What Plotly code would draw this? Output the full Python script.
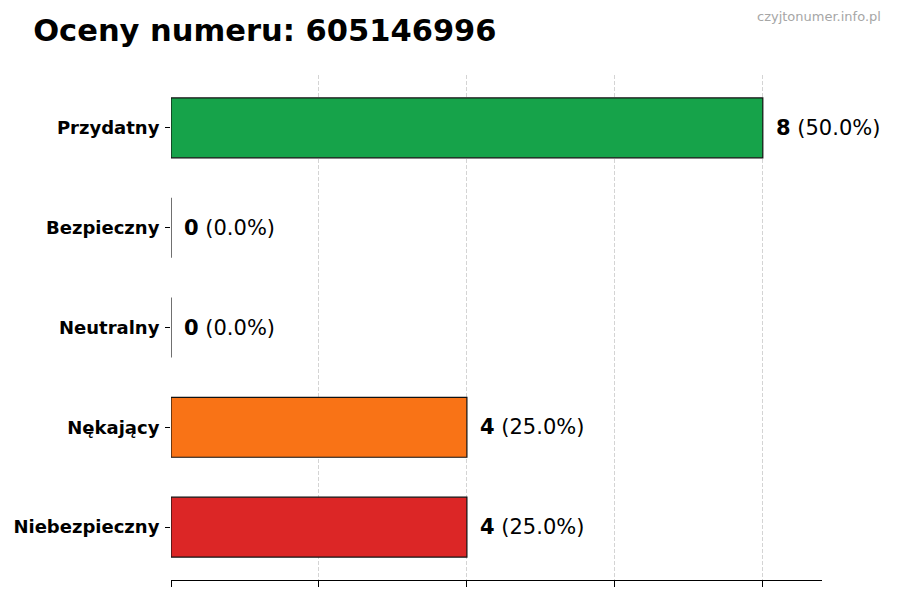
import plotly.graph_objects as go

# data, top to bottom as in the picture
categories = ["Przydatny", "Bezpieczny", "Neutralny", "Nękający", "Niebezpieczny"]
counts = [8, 0, 0, 4, 4]
colors = ["#16a34a", "#2563eb", "#9ca3af", "#f97316", "#dc2626"]
phone = "605146996"

total = sum(counts)
pcts = [100.0 * c / total for c in counts]

fig = go.Figure()
fig.add_trace(go.Bar(
    x=counts, y=categories, orientation="h", width=0.6,
    marker=dict(color=colors, line=dict(color="#111111", width=1.2)),
    hoverinfo="skip", showlegend=False,
))

# value labels to the right of each bar
for cat, c, p in zip(categories, counts, pcts):
    fig.add_annotation(x=c, y=cat, xref="x", yref="y",
                       text=f"<b>{c}</b> ({p:.1f}%)", showarrow=False,
                       xanchor="left", yanchor="middle", xshift=11,
                       font=dict(size=21, color="black"))

# watermark, top right
fig.add_annotation(text="czyjtonumer.info.pl", xref="paper", yref="paper",
                   x=1.094, y=1.115, xanchor="right", yanchor="middle",
                   showarrow=False, font=dict(size=13, color="#a6a6a6"))

# the page has an 8px body margin, margins below account for it
fig.update_layout(
    width=900, height=600,
    margin=dict(l=163, r=86, t=67, b=28),
    plot_bgcolor="white", paper_bgcolor="white",
    font=dict(family="DejaVu Sans", color="black"),
    title=dict(text=f"<b>Oceny numeru: {phone}</b>", x=0.028, xanchor="left",
               y=0.963, yanchor="middle", font=dict(size=30.5)),
)
fig.update_xaxes(range=[0, 8.8], dtick=2, showticklabels=False,
                 showgrid=True, gridcolor="#d4d4d4", griddash="4px,2px", gridwidth=1,
                 zeroline=False, showline=True, linecolor="black", linewidth=1.2,
                 ticks="outside", ticklen=6, tickcolor="black",
                 layer="above traces", automargin=False)
fig.update_yaxes(range=[4.53, -0.53], showgrid=False, zeroline=False,
                 showline=False, ticks="outside", ticklen=5, tickcolor="black",
                 tickfont=dict(size=18, family="DejaVu Sans", weight="bold"),
                 ticklabelstandoff=2, automargin=False)

fig.write_html("out.html")
